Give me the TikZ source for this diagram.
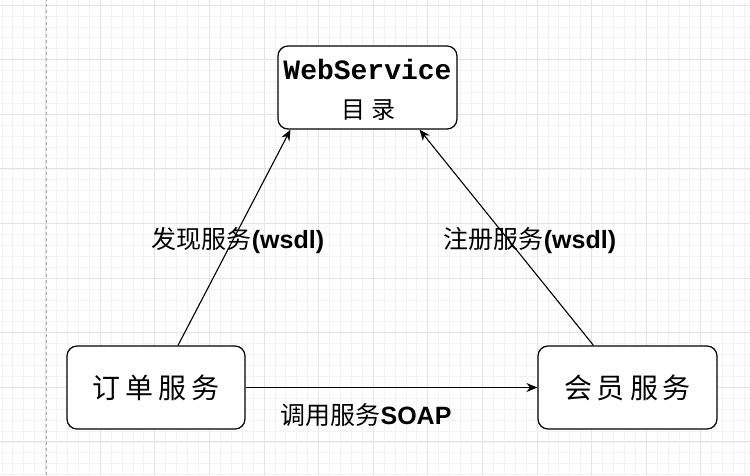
\documentclass[tikz,border=0pt]{standalone}
\usepackage{fontspec}
\usetikzlibrary{arrows.meta,calc}
\newfontfamily\cjk{Noto Sans CJK SC}
\newfontfamily\lsans{Liberation Sans}
\newfontfamily\lmono{Liberation Mono}
\definecolor{minorg}{HTML}{F3F3F3}
\definecolor{majorg}{HTML}{E4E4E4}
\definecolor{dashg}{HTML}{A8A8A8}
\tikzset{
  box/.style={draw=black, line width=1.2pt, rounded corners=10pt, fill=white, inner sep=0pt},
  conn/.style={draw=black, line width=1.1pt, -{Stealth[length=11pt,width=9pt]}},
  boxtext/.style={font=\cjk\fontsize{28}{30}\selectfont, inner sep=0pt},
  edgetext/.style={font=\fontsize{25}{27}\selectfont, inner sep=1pt},
}
\begin{document}
\begin{tikzpicture}[x=1pt,y=1pt]
\useasboundingbox (0,0) rectangle (750,475);
\fill[white] (0,0) rectangle (750,475);
% grid
\foreach \i in {-4,...,65} {
  \pgfmathsetmacro\xx{45.5+10.92*\i}
  \draw[minorg, line width=0.6pt] (\xx,0) -- (\xx,475);
}
\foreach \i in {0,...,44} {
  \pgfmathsetmacro\yy{470-10.92*\i}
  \draw[minorg, line width=0.6pt] (0,\yy) -- (750,\yy);
}
\foreach \i in {0,...,13} {
  \pgfmathsetmacro\xx{45.5+54.6*\i}
  \draw[majorg, line width=0.8pt] (\xx,0) -- (\xx,475);
}
\foreach \i in {0,...,8} {
  \pgfmathsetmacro\yy{470-54.6*\i}
  \draw[majorg, line width=0.8pt] (0,\yy) -- (750,\yy);
}
\draw[dashg, line width=1pt, dash pattern=on 3pt off 3pt] (46,0) -- (46,475);

% nodes
\node[box, minimum width=179pt, minimum height=83pt] (ws) at (367.5,387.5) {};
\node[inner sep=0pt, font=\lmono\bfseries\fontsize{28}{30}\selectfont, anchor=base] (wst) at ($(ws.center)+(0,7.5)$) {WebService};
\node[inner sep=0pt, font=\cjk\fontsize{24}{26}\selectfont, anchor=base] (wsc) at ($(ws.center)+(1,-31)$) {目\kern7pt 录};

\node[box, minimum width=178pt, minimum height=83pt] (ord) at (156,87.5) {};
\node[boxtext] (ordt) at (ord.center) {订\kern5pt 单\kern5pt 服\kern5pt 务};

\node[box, minimum width=179pt, minimum height=83pt] (mem) at (627.5,87.5) {};
\node[boxtext] (memt) at (mem.center) {会\kern5pt 员\kern5pt 服\kern5pt 务};

% connectors
\draw[conn] ($(ord.north)+(22,0)$) -- ($(ws.south)+(-77,0)$);
\draw[conn] ($(mem.north)+(-34,0)$) -- ($(ws.south)+(52,0)$);
\draw[conn] (ord.east) -- (mem.west);

% labels
\node[edgetext] (l1) at (238,234) {{\cjk 发现服务}{\lsans\bfseries (wsdl)}};
\node[edgetext] (l2) at (530,234) {{\cjk 注册服务}{\lsans\bfseries (wsdl)}};
\node[edgetext] (l3) at (366,60) {{\cjk 调用服务}{\lsans\bfseries SOAP}};
\end{tikzpicture}
\end{document}
